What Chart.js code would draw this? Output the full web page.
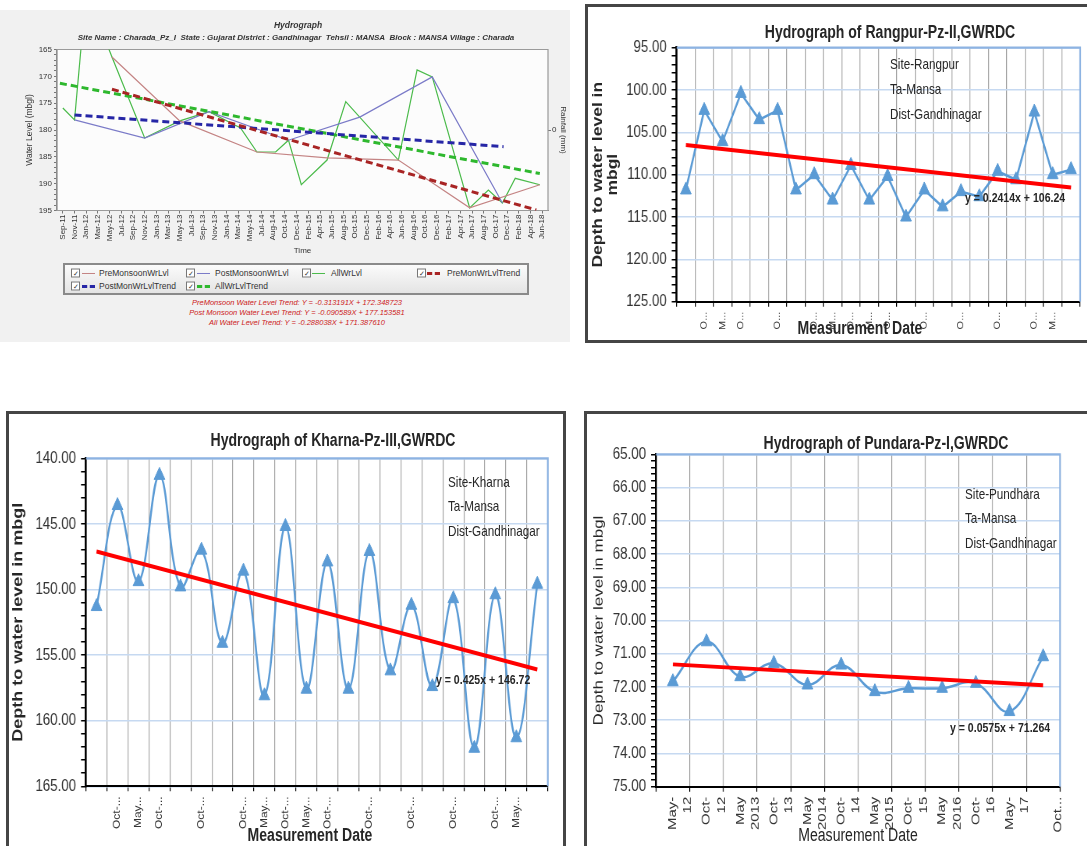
<!DOCTYPE html>
<html>
<head>
<meta charset="utf-8">
<title>Hydrographs - Mansa taluka</title>
<script src="https://cdn.jsdelivr.net/npm/chart.js@4.4.1/dist/chart.umd.min.js"></script>
<style>
  body{margin:0;width:1087px;height:846px;overflow:hidden;background:#fff;position:relative;
       font-family:"Liberation Sans",Arial,sans-serif;color:#262626}
  canvas,.txt,.frame,#panel,#legend,#legend span{position:absolute}
  .frame{border:3px solid #454545;box-sizing:border-box}
  .txt{white-space:nowrap;line-height:1}
  .c{transform:translate(-50%,-50%)}
  .sq.c{transform:translate(-50%,-50%) scaleX(.78)}
  .sq.l{transform-origin:0 50%;transform:translateY(-50%) scaleX(.78)}
  .ttl{font-size:18px;font-weight:bold}
  .xt{font-size:18px}
  .note{font-size:15px}
  .eq{font-size:13.5px;font-weight:bold}
  #panel{left:0;top:10px;width:570px;height:332px;background:#f1f1f1}
  .tl-i{font-style:italic;color:#333}
  .red{font-style:italic;color:#cc2020;font-size:7.5px}
  #legend{left:63px;top:263px;width:462px;height:28px;border:2px solid #8a8a8a;
          background:linear-gradient(#fbfbfb,#e4e4e4);font-size:8.5px;color:#333}
  #legend .cb{width:7px;height:7px;border:1px solid #777;background:#fff;font-size:7px;line-height:7px;
              text-align:center;transform:translateY(-50%)}
  #legend .ls{width:13px;height:0}
  #legend .lt{transform:translateY(-50%);white-space:nowrap}
</style>
</head>
<body>

<div id="panel"></div>
<div class="frame" style="left:585px;top:4px;width:510px;height:339px"></div>
<div class="frame" style="left:6px;top:411px;width:560px;height:445px"></div>
<div class="frame" style="left:584px;top:411px;width:510px;height:445px"></div>

<canvas id="charada" width="570" height="250" style="left:0;top:10px;width:570px;height:250px"></canvas>
<canvas id="rangpur"></canvas>
<canvas id="kharna"></canvas>
<canvas id="pundara"></canvas>

<!-- top-left panel texts -->
<div class="txt c tl-i" style="left:298px;top:25px;font-size:8.5px;font-weight:bold">Hydrograph</div>
<div class="txt c tl-i" style="left:296px;top:38px;font-size:8px;font-weight:bold">Site Name : Charada_Pz_I&nbsp; State : Gujarat District : Gandhinagar&nbsp; Tehsil : MANSA&nbsp; Block : MANSA Village : Charada</div>

<div id="legend">
  <span class="cb" style="left:6px;top:8px">✓</span><span class="ls" style="left:17px;top:8px;border-top:1.5px solid #c48484"></span><span class="lt" style="left:34px;top:8px">PreMonsoonWrLvl</span>
  <span class="cb" style="left:121px;top:8px">✓</span><span class="ls" style="left:132px;top:8px;border-top:1.5px solid #7b7bc8"></span><span class="lt" style="left:150px;top:8px">PostMonsoonWrLvl</span>
  <span class="cb" style="left:237px;top:8px">✓</span><span class="ls" style="left:247px;top:8px;border-top:1.5px solid #4cbb4c"></span><span class="lt" style="left:266px;top:8px">AllWrLvl</span>
  <span class="cb" style="left:352px;top:8px">✓</span><span class="ls" style="left:362px;top:7px;border-top:3px dashed #a82424"></span><span class="lt" style="left:382px;top:8px">PreMonWrLvlTrend</span>
  <span class="cb" style="left:6px;top:21px">✓</span><span class="ls" style="left:17px;top:20px;border-top:3px dashed #2626a6"></span><span class="lt" style="left:34px;top:21px">PostMonWrLvlTrend</span>
  <span class="cb" style="left:121px;top:21px">✓</span><span class="ls" style="left:132px;top:20px;border-top:3px dashed #2eb82e"></span><span class="lt" style="left:150px;top:21px">AllWrLvlTrend</span>
</div>
<div class="txt c red" style="left:297px;top:303px">PreMonsoon Water Level Trend: Y = -0.313191X + 172.348723</div>
<div class="txt c red" style="left:297px;top:313px">Post Monsoon Water Level Trend: Y = -0.090589X + 177.153581</div>
<div class="txt c red" style="left:297px;top:323px">All Water Level Trend: Y = -0.288038X + 171.387610</div>

<!-- Rangpur texts -->
<div class="txt c sq ttl" style="left:890px;top:32px">Hydrograph of Rangpur-Pz-II,GWRDC</div>
<div class="txt l sq note" style="left:890px;top:63px">Site-Rangpur</div>
<div class="txt l sq note" style="left:890px;top:88px">Ta-Mansa</div>
<div class="txt l sq note" style="left:890px;top:113px">Dist-Gandhinagar</div>
<div class="txt l sq eq" style="left:965px;top:198px">y = 0.2414x + 106.24</div>
<div class="txt c sq xt" style="left:860px;top:328px;font-weight:bold">Measurement Date</div>

<!-- Kharna texts -->
<div class="txt c sq ttl" style="left:333px;top:440px">Hydrograph of Kharna-Pz-III,GWRDC</div>
<div class="txt l sq note" style="left:448px;top:481px">Site-Kharna</div>
<div class="txt l sq note" style="left:448px;top:505px">Ta-Mansa</div>
<div class="txt l sq note" style="left:448px;top:530px">Dist-Gandhinagar</div>
<div class="txt l sq eq" style="left:436px;top:680px">y = 0.425x + 146.72</div>
<div class="txt c sq xt" style="left:310px;top:835px;font-weight:bold">Measurement Date</div>

<!-- Pundara texts -->
<div class="txt c sq ttl" style="left:886px;top:443px">Hydrograph of Pundara-Pz-I,GWRDC</div>
<div class="txt l sq note" style="left:965px;top:493px">Site-Pundhara</div>
<div class="txt l sq note" style="left:965px;top:517px">Ta-Mansa</div>
<div class="txt l sq note" style="left:965px;top:542px">Dist-Gandhinagar</div>
<div class="txt l sq eq" style="left:950px;top:728px">y = 0.0575x + 71.264</div>
<div class="txt c sq xt" style="left:858px;top:835px">Measurement Date</div>

<script>
// ---- Charada_Pz_I (x = position on the time axis, counted in tick steps; y = mbgl)
const charadaTicks = ["Sep-11","Nov-11","Jan-12","Mar-12","May-12","Jul-12","Sep-12","Nov-12","Jan-13","Mar-13",
  "May-13","Jul-13","Sep-13","Nov-13","Jan-14","Mar-14","May-14","Jul-14","Aug-14","Oct-14","Dec-14","Feb-15",
  "Apr-15","Jun-15","Aug-15","Oct-15","Dec-15","Feb-16","Apr-16","Jun-16","Aug-16","Oct-16","Dec-16","Feb-17",
  "Apr-17","Jun-17","Aug-17","Oct-17","Dec-17","Feb-18","Apr-18","Jun-18"];
const allX  = [0, 1, 2, 4.2, 7, 10, 12.5, 15.2, 16.6, 18.2, 19.3, 20.4, 22.6, 24.2, 28.7, 30.3, 31.6, 34.8, 36.4, 37.6, 38.7, 40.8];
const allY  = [175.9, 178.1, 154.0, 166.4, 181.5, 178.3, 176.6, 179.6, 184.1, 184.1, 181.9, 190.2, 185.6, 174.7, 185.6, 168.8, 170.1, 194.5, 191.2, 193.6, 189.0, 190.2];
const preX  = [4.2, 10, 16.6, 22.6, 28.7, 34.8, 40.8];
const preY  = [166.4, 178.3, 184.1, 185.2, 185.6, 194.5, 190.2];
const postX = [1, 7, 12.5, 19.3, 25.4, 31.6, 37.6];
const postY = [178.1, 181.5, 176.6, 181.9, 177.6, 170.1, 193.6];
const preTrendX  = [4.2, 40.5],  preTrendY  = [172.4, 194.9];
const postTrendX = [1, 37.7],    postTrendY = [177.2, 183.1];
const allTrendX  = [-0.25, 40.8], allTrendY = [171.3, 188.1];

// ---- Rangpur-Pz-II
const rangpurLabels = ["", "O...", "M...", "O...", "", "O...", "", "O...", "M...", "O...", "M...",
  "O...", "", "O...", "", "O...", "", "O...", "", "O...", "M...", ""];
const rangpurDepth = [111.8, 102.4, 106.1, 100.4, 103.5, 102.4, 111.8, 110.0, 113.0, 108.9, 113.0,
  110.2, 115.0, 111.8, 113.8, 112.0, 112.6, 109.6, 110.6, 102.6, 110.0, 109.4];
const rangpurTrend = [106.5, 111.5];

// ---- Kharna-Pz-III
const kharnaLabels = ["", "Oct-...", "May...", "Oct-...", "", "Oct-...", "", "Oct-...", "May...", "Oct-...", "May...",
  "Oct-...", "", "Oct-...", "", "Oct-...", "", "Oct-...", "", "Oct-...", "May...", ""];
const kharnaDepth = [151.3, 143.6, 149.4, 141.3, 149.8, 147.0, 154.1, 148.6, 158.1, 145.2, 157.6,
  147.9, 157.6, 147.1, 156.2, 151.2, 157.4, 150.7, 162.1, 150.4, 161.3, 149.6];
const kharnaTrend = [147.1, 156.1];

// ---- Pundara-Pz-I
const pundaraLabels = [["May-","12"], ["Oct-","12"], ["May","2013"], ["Oct-","13"], ["May","2014"], ["Oct-","14"],
  ["May","2015"], ["Oct-","15"], ["May","2016"], ["Oct-","16"], ["May-","17"], ["", "Oct..."]];
const pundaraDepth = [71.84, 70.64, 71.69, 71.29, 71.94, 71.34, 72.14, 72.04, 72.04, 71.89, 72.74, 71.09];
const pundaraTrend = [71.32, 71.95];

const SANS = '"Liberation Sans", Arial, sans-serif';
const SQ = 0.78;   // the three Excel charts are squeezed horizontally

const pts = (xs, ys) => xs.map((x, i) => ({x, y: ys[i]}));
const ends = (n, e) => Array.from({length: n}, (_, i) => i === 0 ? e[0] : i === n - 1 ? e[1] : null);
const isMajor = (v, step) => Math.abs(v / step - Math.round(v / step)) < 1e-6;
const tickList = (min, max, step) =>
  Array.from({length: Math.round((max - min) / step) + 1}, (_, i) => ({value: +(min + i * step).toFixed(6)}));

// plot area background / border
const plotFrame = {
  id: 'plotFrame',
  beforeDraw(chart, args, o){
    if(!o.fill) return;
    const {ctx, chartArea:a} = chart;
    ctx.save();
    ctx.fillStyle = o.fill;
    ctx.fillRect(a.left, a.top, a.width, a.height);
    ctx.restore();
  },
  beforeDatasetsDraw(chart, args, o){
    const {ctx, chartArea:a} = chart;
    ctx.save();
    ctx.strokeStyle = o.color;
    ctx.lineWidth = o.width;
    ctx.beginPath();
    if(o.box){
      ctx.rect(a.left, a.top, a.width, a.height);
    } else {
      ctx.moveTo(a.left, a.top);
      ctx.lineTo(a.right, a.top);
      ctx.lineTo(a.right, a.bottom);
    }
    ctx.stroke();
    ctx.restore();
  }
};

Chart.defaults.font.family = SANS;

// ---------- top-left : Charada hydrograph
new Chart(document.getElementById('charada'), {
  type: 'line',
  data: {
    datasets: [
      {data: pts(preTrendX, preTrendY),   borderColor: '#a82424', borderWidth: 3, borderDash: [7, 4]},
      {data: pts(postTrendX, postTrendY), borderColor: '#2626a6', borderWidth: 3, borderDash: [7, 4]},
      {data: pts(allTrendX, allTrendY),   borderColor: '#2eb82e', borderWidth: 3, borderDash: [7, 4]},
      {data: pts(preX, preY),   borderColor: '#c48484', borderWidth: 1.2},
      {data: pts(postX, postY), borderColor: '#7b7bc8', borderWidth: 1.2},
      {data: pts(allX, allY),   borderColor: '#4cbb4c', borderWidth: 1.2}
    ]
  },
  options: {
    responsive: false,
    animation: false,
    devicePixelRatio: 1,
    elements: {point: {radius: 0}, line: {tension: 0}},
    layout: {padding: {top: 39.5, right: 0, bottom: 0, left: 0}},
    plugins: {
      legend: {display: false},
      tooltip: {enabled: false},
      plotFrame: {fill: '#fcfcfc', color: '#9a9a9a', width: 1.2, box: true}
    },
    scales: {
      x: {
        type: 'linear', min: -0.5, max: 41.5,
        afterBuildTicks(s){ s.ticks = charadaTicks.map((_, i) => ({value: i})); },
        ticks: {autoSkip: false, minRotation: 90, maxRotation: 90, padding: 1, color: '#333',
                font: {size: 8}, callback: v => charadaTicks[v]},
        grid: {drawOnChartArea: false, tickLength: 3, tickColor: '#777'},
        border: {color: '#888', width: 1},
        title: {display: true, text: 'Time', color: '#333', font: {size: 8}, padding: {top: 0, bottom: 4}},
        afterFit(s){ s.height = 49.5; }
      },
      y: {
        min: 165, max: 195, reverse: true,
        afterBuildTicks(s){ s.ticks = tickList(165, 195, 1); },
        ticks: {autoSkip: false, padding: 2, color: '#333', font: {size: 8},
                callback: v => isMajor(v, 5) ? String(v) : ''},
        grid: {drawOnChartArea: false, tickLength: 3, tickColor: '#777'},
        border: {color: '#777', width: 1.2},
        title: {display: true, text: 'Water Level (mbgl)', color: '#333', font: {size: 8.5}, padding: {top: 25, bottom: 0}},
        afterFit(s){ s.width = 57; }
      },
      rain: {
        position: 'right', min: -1, max: 1,
        afterBuildTicks(s){ s.ticks = [{value: 0}]; },
        ticks: {padding: 1, color: '#333', font: {size: 8}, callback: () => '0'},
        grid: {drawOnChartArea: false, tickLength: 3, tickColor: '#777'},
        border: {display: false},
        title: {display: true, text: 'Rainfall (mm)', color: '#333', font: {size: 8}, padding: {top: 2, bottom: 0}},
        afterFit(s){ s.width = 22; }
      }
    }
  },
  plugins: [plotFrame]
});

// ---------- Excel style hydrographs (sizes given in page pixels, canvas is squeezed by SQ)
function hydrograph(id, o){
  const canvas = document.getElementById(id);
  const w = Math.round(o.box[2] / SQ);
  canvas.width = w;
  canvas.height = o.box[3];
  Object.assign(canvas.style, {
    left: o.box[0] + 'px', top: o.box[1] + 'px', width: w + 'px', height: o.box[3] + 'px',
    transformOrigin: '0 0', transform: 'scaleX(' + SQ + ')'
  });
  return new Chart(canvas, {
    type: 'line',
    data: {
      labels: o.labels,
      datasets: [
        {data: ends(o.values.length, o.trend), borderColor: '#ff0000', borderWidth: 4,
         pointRadius: 0, spanGaps: true, tension: 0},
        {data: o.values, borderColor: '#5b9bd5', backgroundColor: '#5b9bd5', borderWidth: 2.5,
         pointStyle: 'triangle', pointRadius: 8, pointBorderWidth: 1, tension: o.tension}
      ]
    },
    options: {
      responsive: false,
      animation: false,
      devicePixelRatio: 1,
      layout: {padding: {top: o.top, right: o.right / SQ, bottom: 0, left: 0}},
      plugins: {
        legend: {display: false},
        tooltip: {enabled: false},
        plotFrame: {color: '#8db3e2', width: 2.2}
      },
      scales: {
        x: {
          offset: true,
          grid: {offset: true, color: '#a6a6a6', lineWidth: 1.2, tickLength: 5, tickColor: '#000'},
          border: {color: '#000', width: 2},
          ticks: {autoSkip: false, minRotation: 90, maxRotation: 90, padding: 5, color: '#333',
                  font: {size: o.xFont, lineHeight: o.xLH}},
          afterFit(s){ s.height = o.xHeight; }
        },
        y: {
          min: o.min, max: o.max, reverse: true,
          afterBuildTicks(s){ s.ticks = tickList(o.min, o.max, o.minor); },
          ticks: {autoSkip: false, padding: 5 / SQ, color: '#333', font: {size: 17},
                  callback: v => isMajor(v, o.major) ? v.toFixed(2) : ''},
          grid: {
            color: c => c.tick && isMajor(c.tick.value, o.major) ? '#c6d9f1' : 'rgba(0,0,0,0)',
            lineWidth: 1.5, tickLength: 5 / SQ, tickColor: '#000'
          },
          border: {color: '#000', width: 2.6},
          title: {display: true, text: o.yTitle, color: '#262626',
                  font: {size: o.yTitleSize, weight: o.yTitleWeight, lineHeight: o.yTitleLH},
                  padding: {top: o.yTitlePad / SQ, bottom: 0}},
          afterFit(s){ s.width = o.yWidth / SQ; }
        }
      }
    },
    plugins: [plotFrame]
  });
}

hydrograph('rangpur', {
  box: [588, 7, 499, 333],
  labels: rangpurLabels, values: rangpurDepth, trend: rangpurTrend, tension: 0,
  min: 95, max: 125, major: 5, minor: 1,
  top: 40.7, right: 5.3, yWidth: 88.7, xHeight: 38.3, xFont: 11, xLH: 1.2,
  yTitle: ['Depth to water level in', 'mbgl'], yTitleSize: 17.5, yTitleWeight: 'bold', yTitleLH: 1.1, yTitlePad: 2.5
});

hydrograph('kharna', {
  box: [9, 414, 554, 432],
  labels: kharnaLabels, values: kharnaDepth, trend: kharnaTrend, tension: 0.4,
  min: 140, max: 165, major: 5, minor: 1,
  top: 44.3, right: 15, yWidth: 77, xHeight: 59.7, xFont: 12, xLH: 1.2,
  yTitle: 'Depth to water level in mbgl', yTitleSize: 18, yTitleWeight: 'bold', yTitleLH: 1, yTitlePad: 2
});

hydrograph('pundara', {
  box: [587, 414, 500, 432],
  labels: pundaraLabels, values: pundaraDepth, trend: pundaraTrend, tension: 0.4,
  min: 65, max: 75, major: 1, minor: 0.2,
  top: 40.3, right: 27, yWidth: 69, xHeight: 59.3, xFont: 15, xLH: 1.28,
  yTitle: 'Depth to water level in mbgl', yTitleSize: 17, yTitleWeight: 'normal', yTitleLH: 1, yTitlePad: 5.4
});
</script>
</body>
</html>
